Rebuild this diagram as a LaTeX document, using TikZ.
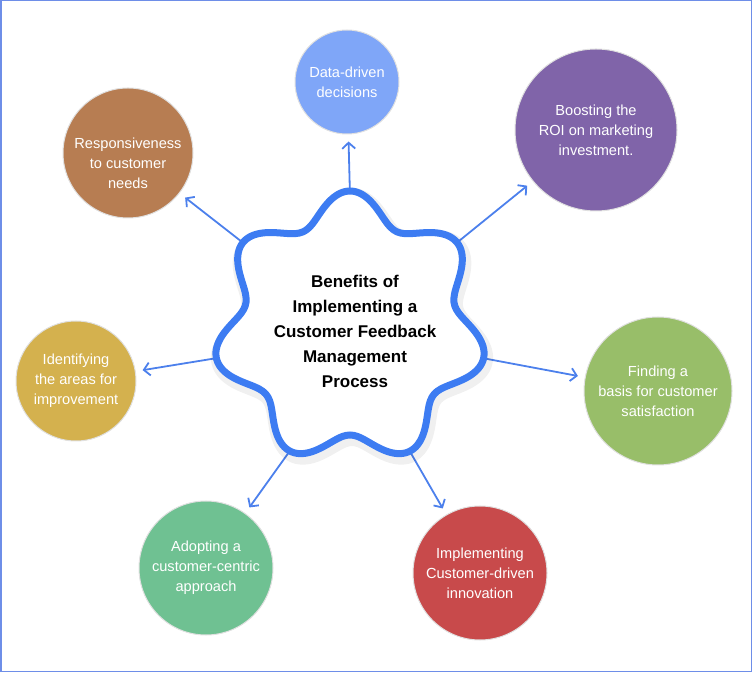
\documentclass[tikz,border=0pt]{standalone}
\usepackage{fontspec}
\setmainfont{Liberation Sans}
\usetikzlibrary{arrows.meta}

\definecolor{blobblue}{HTML}{3D7CF2}
\definecolor{arrowblue}{HTML}{4C80EC}
\definecolor{frameblue}{HTML}{6E8EE8}
\definecolor{skyfill}{HTML}{7FA6F8}
\definecolor{plumfill}{HTML}{8064A9}
\definecolor{rustfill}{HTML}{B77D52}
\definecolor{ochrefill}{HTML}{D4B14E}
\definecolor{limefill}{HTML}{98BE69}
\definecolor{brickfill}{HTML}{C84A4B}
\definecolor{mintfill}{HTML}{6FC192}

\begin{document}
\begin{tikzpicture}[
    x=1pt, y=1pt,
    declare function={blobr(\t)=122+15*cos(7*(\t-90));},
    bubbletext/.style={text=white, align=center, font=\fontsize{14.6}{20}\selectfont},
    bubble/.style={circle, draw=black!12, line width=1pt, inner sep=0pt, bubbletext},
    blob/.style={draw=blobblue, line width=7pt, fill=white},
    title/.style={align=center, font=\fontsize{17}{25}\selectfont\bfseries},
    arrow/.style={-{Straight Barb[length=6pt,width=13pt]}, line width=1.8pt, draw=arrowblue, shorten >=7pt}
]

% Frame
\useasboundingbox (0,0) rectangle (752,672);
\draw[frameblue, line width=1.5pt] (0.75,0.75) rectangle (751.25,671.25);

% Benefit circles
\node[bubble, fill=skyfill, minimum size=104] (decisions) at (347,590) {Data-driven\\decisions};
\node[bubble, fill=plumfill, minimum size=162] (roi) at (596,542) {Boosting the\\ROI on marketing\\investment.};
\node[bubble, fill=rustfill, minimum size=130,
      label={[bubbletext, yshift=-10pt]center:{Responsiveness\\to customer\\needs}}] (respond) at (128,519) {};
\node[bubble, fill=ochrefill, minimum size=120] (improve) at (76,291) {Identifying\\the areas for\\improvement};
\node[bubble, fill=limefill, minimum size=148] (basis) at (658,281) {Finding a\\basis for customer\\satisfaction};
\node[bubble, fill=brickfill, minimum size=134] (innovation) at (480,99) {Implementing\\Customer-driven\\innovation};
\node[bubble, fill=mintfill, minimum size=134] (centric) at (206,104) {Adopting a\\customer-centric\\approach};

% Lobe tips
\coordinate (blobc) at (350,344);
\foreach \k in {0,...,6}
    \path (blobc) ++({90-\k*360/7}:132) coordinate (tip\k);

% Relationships
\draw[arrow] (tip0) -- (decisions);
\draw[arrow] (tip1) -- (roi);
\draw[arrow] (tip2) -- (basis);
\draw[arrow] (tip3) -- (innovation);
\draw[arrow] (tip4) -- (centric);
\draw[arrow] (tip5) -- (improve);
\draw[arrow] (tip6) -- (respond);

% Central shape
\draw[black, opacity=0.06, line width=14pt] plot[variable=\t, domain=0:358, samples=180, smooth cycle]
    ({352+blobr(\t)*cos(\t)}, {340+blobr(\t)*sin(\t)});
\draw[blob] plot[variable=\t, domain=0:358, samples=180, smooth cycle]
    ({350+blobr(\t)*cos(\t)}, {344+blobr(\t)*sin(\t)});
\node[title] (title) at (355,341) {Benefits of\\Implementing a\\Customer Feedback\\Management\\Process};

\end{tikzpicture}
\end{document}
